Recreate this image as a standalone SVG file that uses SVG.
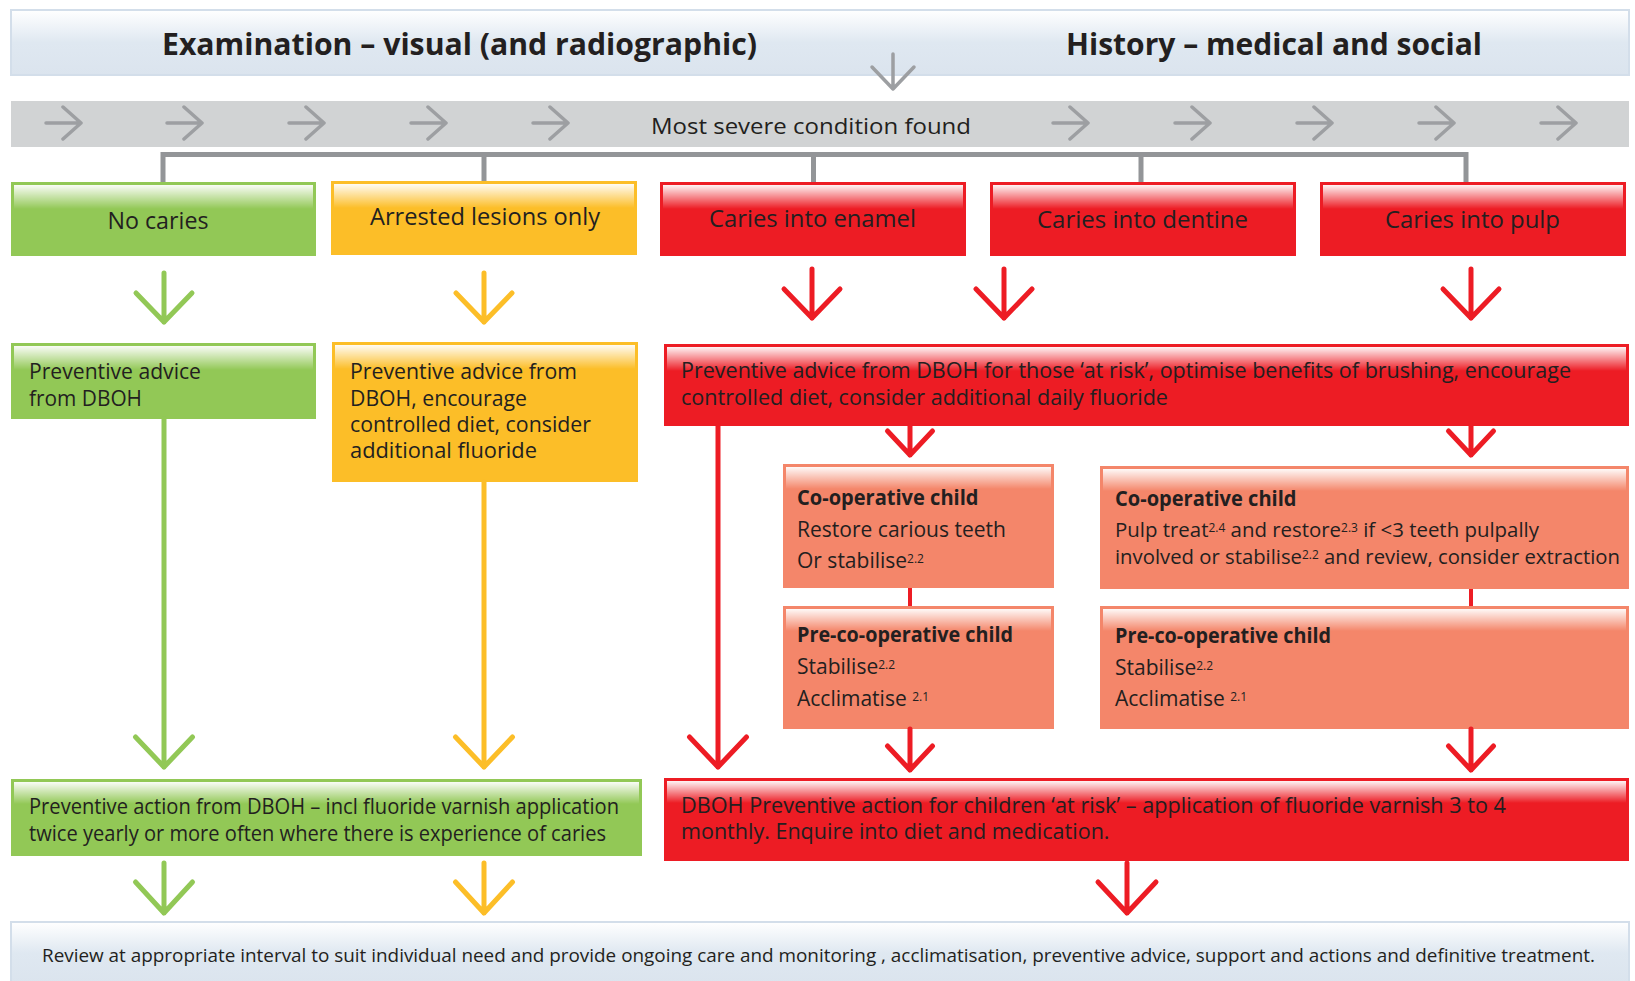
<svg xmlns="http://www.w3.org/2000/svg" width="1635" height="981" viewBox="0 0 1635 981">
<defs>
<linearGradient id="hl" x1="0" y1="0" x2="0" y2="1"><stop offset="0" stop-color="#fff" stop-opacity="0.95"/><stop offset="1" stop-color="#fff" stop-opacity="0"/></linearGradient>
<linearGradient id="sky" x1="0" y1="0" x2="0" y2="1"><stop offset="0" stop-color="#ffffff"/><stop offset="0.5" stop-color="#dfe8f1"/><stop offset="1" stop-color="#dbe4ee"/></linearGradient>
<style>
.t{font-family:"Open Sans","Liberation Sans",sans-serif;fill:#231f20}
.h{font-size:30px;font-weight:700}
.lab{font-size:23.5px;text-anchor:middle}
.b{font-size:21px}
.bn{font-size:20.5px}
.bb{font-size:21px;font-weight:700}
.s{font-size:12px}
.hl{fill:url(#hl)}
.sky{fill:url(#sky);stroke:#d3deea;stroke-width:2}
.g{fill:#92c856}.y{fill:#fcbe28}.r{fill:#ed1c24}.sa{fill:#f4866a}
.gray{fill:#d1d3d4}
.br{fill:none;stroke:#939598;stroke-width:5}
.ga{fill:none;stroke:#9d9fa2;stroke-width:3.5;stroke-linecap:round;stroke-linejoin:round}
.a{fill:none;stroke-width:5;stroke-linecap:round;stroke-linejoin:round}
.ag{stroke:#92c856}.ay{stroke:#fcbe28}.ar{stroke:#ed1c24}
.ln{fill:none;stroke:#ed1c24;stroke-width:4}
</style>
</defs>

<g id="header">
<rect class="sky" x="11" y="10" width="1618" height="65"/>
<text class="t h" x="162" y="55" textLength="595" lengthAdjust="spacingAndGlyphs">Examination – visual (and radiographic)</text>
<text class="t h" x="1066" y="55" textLength="416" lengthAdjust="spacingAndGlyphs">History – medical and social</text>
</g>

<g id="severity-band">
<rect class="gray" x="11" y="101" width="1618" height="46"/>
<text class="t" x="651" y="134" font-size="22.5" textLength="320" lengthAdjust="spacingAndGlyphs">Most severe condition found</text>
</g>

<g id="no-caries">
<rect class="g" x="11" y="182" width="305" height="74"/>
<rect class="hl" x="14" y="185" width="299" height="24"/>
<text class="t lab" x="158" y="229" textLength="101" lengthAdjust="spacingAndGlyphs">No caries</text>
</g>
<g id="arrested">
<rect class="y" x="331" y="181" width="306" height="74"/>
<rect class="hl" x="334" y="184" width="300" height="24"/>
<text class="t lab" x="485" y="225" textLength="230" lengthAdjust="spacingAndGlyphs">Arrested lesions only</text>
</g>
<g id="enamel">
<rect class="r" x="660" y="182" width="306" height="74"/>
<rect class="hl" x="663" y="185" width="300" height="24"/>
<text class="t lab" x="812.5" y="227" textLength="207" lengthAdjust="spacingAndGlyphs">Caries into enamel</text>
</g>
<g id="dentine">
<rect class="r" x="990" y="182" width="306" height="74"/>
<rect class="hl" x="993" y="185" width="300" height="24"/>
<text class="t lab" x="1142.5" y="228" textLength="211" lengthAdjust="spacingAndGlyphs">Caries into dentine</text>
</g>
<g id="pulp">
<rect class="r" x="1320" y="182" width="306" height="74"/>
<rect class="hl" x="1323" y="185" width="300" height="24"/>
<text class="t lab" x="1472.5" y="228" textLength="175" lengthAdjust="spacingAndGlyphs">Caries into pulp</text>
</g>

<g id="advice-green">
<rect class="g" x="11" y="343" width="305" height="76"/>
<rect class="hl" x="14" y="346" width="299" height="24"/>
<text class="t b" x="29" y="379" textLength="172" lengthAdjust="spacingAndGlyphs">Preventive advice</text>
<text class="t b" x="29" y="406" textLength="113" lengthAdjust="spacingAndGlyphs">from DBOH</text>
</g>
<g id="advice-yellow">
<rect class="y" x="332" y="342" width="306" height="140"/>
<rect class="hl" x="335" y="345" width="300" height="24"/>
<text class="t b" x="350" y="379" textLength="227" lengthAdjust="spacingAndGlyphs">Preventive advice from</text>
<text class="t b" x="350" y="406" textLength="177" lengthAdjust="spacingAndGlyphs">DBOH, encourage</text>
<text class="t b" x="350" y="432" textLength="241" lengthAdjust="spacingAndGlyphs">controlled diet, consider</text>
<text class="t b" x="350" y="458" textLength="187" lengthAdjust="spacingAndGlyphs">additional fluoride</text>
</g>
<g id="advice-red">
<rect class="r" x="664" y="344" width="965" height="82"/>
<rect class="hl" x="667" y="347" width="959" height="24"/>
<text class="t b" x="681" y="378" textLength="890" lengthAdjust="spacingAndGlyphs">Preventive advice from DBOH for those ‘at risk’, optimise benefits of brushing, encourage</text>
<text class="t b" x="681" y="405" textLength="487" lengthAdjust="spacingAndGlyphs">controlled diet, consider additional daily fluoride</text>
</g>

<g id="coop-restore">
<rect class="sa" x="783" y="464" width="271" height="124"/>
<rect class="hl" x="786" y="467" width="265" height="22"/>
<text class="t bb" x="797" y="505" textLength="181.5" lengthAdjust="spacingAndGlyphs">Co-operative child</text>
<text class="t b" x="797" y="537" textLength="209" lengthAdjust="spacingAndGlyphs">Restore carious teeth</text>
<text class="t b" x="797" y="568">Or stabilise<tspan class="s" dy="-5">2.2</tspan></text>
</g>
<g id="coop-pulp">
<rect class="sa" x="1100" y="466" width="529" height="123"/>
<rect class="hl" x="1103" y="469" width="523" height="22"/>
<text class="t bb" x="1115" y="506" textLength="181.5" lengthAdjust="spacingAndGlyphs">Co-operative child</text>
<text class="t bn" x="1115" y="536.5" textLength="424" lengthAdjust="spacingAndGlyphs">Pulp treat<tspan class="s" dy="-5">2.4</tspan><tspan dy="5"> and restore</tspan><tspan class="s" dy="-5">2.3</tspan><tspan dy="5"> if &lt;3 teeth pulpally</tspan></text>
<text class="t bn" x="1115" y="563.5" textLength="505" lengthAdjust="spacingAndGlyphs">involved or stabilise<tspan class="s" dy="-5">2.2</tspan><tspan dy="5"> and review, consider extraction</tspan></text>
</g>
<g id="precoop-left">
<rect class="sa" x="783" y="606" width="271" height="123"/>
<rect class="hl" x="786" y="609" width="265" height="22"/>
<text class="t bb" x="797" y="642" textLength="216" lengthAdjust="spacingAndGlyphs">Pre-co-operative child</text>
<text class="t b" x="797" y="674">Stabilise<tspan class="s" dy="-5">2.2</tspan></text>
<text class="t b" x="797" y="706">Acclimatise <tspan class="s" dy="-5">2.1</tspan></text>
</g>
<g id="precoop-right">
<rect class="sa" x="1100" y="606" width="529" height="123"/>
<rect class="hl" x="1103" y="609" width="523" height="22"/>
<text class="t bb" x="1115" y="643" textLength="216" lengthAdjust="spacingAndGlyphs">Pre-co-operative child</text>
<text class="t b" x="1115" y="675">Stabilise<tspan class="s" dy="-5">2.2</tspan></text>
<text class="t b" x="1115" y="706">Acclimatise <tspan class="s" dy="-5">2.1</tspan></text>
</g>

<g id="action-green">
<rect class="g" x="11" y="779" width="631" height="77"/>
<rect class="hl" x="14" y="782" width="625" height="22"/>
<text class="t b" x="29" y="814" textLength="590" lengthAdjust="spacingAndGlyphs">Preventive action from DBOH – incl fluoride varnish application</text>
<text class="t b" x="29" y="841" textLength="577" lengthAdjust="spacingAndGlyphs">twice yearly or more often where there is experience of caries</text>
</g>
<g id="action-red">
<rect class="r" x="664" y="778" width="965" height="83"/>
<rect class="hl" x="667" y="781" width="959" height="22"/>
<text class="t b" x="681" y="813" textLength="825" lengthAdjust="spacingAndGlyphs">DBOH Preventive action for children ‘at risk’ – application of fluoride varnish 3 to 4</text>
<text class="t b" x="681" y="839" textLength="428.5" lengthAdjust="spacingAndGlyphs">monthly. Enquire into diet and medication.</text>
</g>

<g id="review">
<rect class="sky" x="11" y="922" width="1618" height="62"/>
<text class="t" x="42" y="962" font-size="17.5" textLength="1553" lengthAdjust="spacingAndGlyphs">Review at appropriate interval to suit individual need and provide ongoing care and monitoring , acclimatisation, preventive advice, support and actions and definitive treatment.</text>
</g>

<g id="connectors">
<path class="ga" d="M893 54V89M872 67L893 89L914 67"/>
<path class="ga" d="M46 123H81M63 107L81 123L63 139M167 123H202M184 107L202 123L184 139M289 123H324M306 107L324 123L306 139M411 123H446M428 107L446 123L428 139M533 123H568M550 107L568 123L550 139M1053 123H1088M1070 107L1088 123L1070 139M1175 123H1210M1192 107L1210 123L1192 139M1297 123H1332M1314 107L1332 123L1314 139M1419 123H1454M1436 107L1454 123L1436 139M1541 123H1576M1558 107L1576 123L1558 139"/>
<path class="br" d="M163 182V154.5H1466V182M484 154.5V181M813.5 154.5V182M1141 154.5V182"/>
<path class="a ag" d="M164 273V322M136 293L164 322L192 293"/>
<path class="a ay" d="M484 273V322M456 293L484 322L512 293"/>
<path class="a ar" d="M812 269V318M784 289L812 318L840 289"/>
<path class="a ar" d="M1004 269V318M976 289L1004 318L1032 289"/>
<path class="a ar" d="M1471 269V318M1443 289L1471 318L1499 289"/>
<path class="a ag" d="M164 419V767M135.5 737L164 767L192.5 737"/>
<path class="a ay" d="M484 482V767M455.5 737L484 767L512.5 737"/>
<path class="a ar" d="M718 426V767M689.5 737L718 767L746.5 737"/>
<path class="a ar" d="M910 426V455M887.5 431L910 455L932.5 431"/>
<path class="a ar" d="M1471 426V455M1448.5 431L1471 455L1493.5 431"/>
<path class="ln" d="M910 588V606M1471 589V606"/>
<path class="a ar" d="M910 729V770M887.5 746L910 770L932.5 746"/>
<path class="a ar" d="M1471 729V770M1448.5 746L1471 770L1493.5 746"/>
<path class="a ag" d="M164 863V913M135.5 882L164 913L192.5 882"/>
<path class="a ay" d="M484 863V913M455.5 882L484 913L512.5 882"/>
<path class="a ar" d="M1127 863V913M1098 882L1127 913L1156 882"/>
</g>
</svg>
